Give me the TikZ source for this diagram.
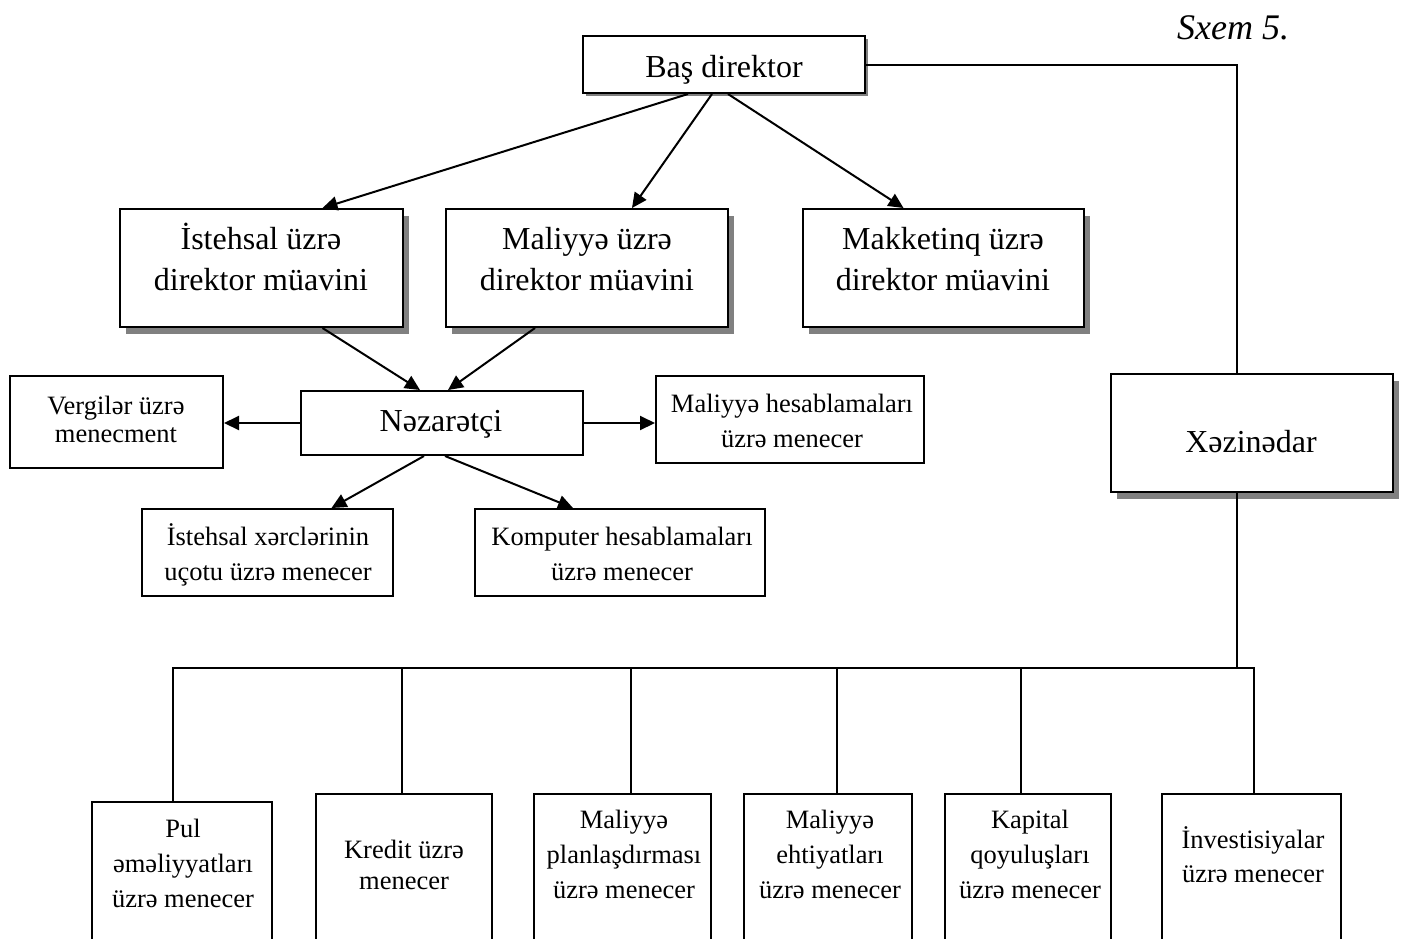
\documentclass[tikz,border=0pt]{standalone}
\usepackage{fontspec}
\setmainfont{Liberation Serif}
\usetikzlibrary{arrows.meta,shadows}

\tikzset{
  frame/.style={draw, line width=2pt, fill=white, inner sep=0pt},
  shade3/.style={drop shadow={shadow xshift=3pt,shadow yshift=-3pt,fill=black!50,opacity=1}},
  shade6/.style={drop shadow={shadow xshift=6pt,shadow yshift=-7pt,fill=black!50,opacity=1}},
  bigtxt/.style={anchor=base, align=center, inner sep=0pt, font=\fontsize{32}{41}\selectfont},
  smalltxt/.style={anchor=base, align=center, inner sep=0pt, font=\fontsize{26.5}{35}\selectfont},
  link/.style={line width=2pt},
  arrowlink/.style={line width=2pt, -{Triangle[length=15pt,width=14pt]}},
}

\begin{document}
\begin{tikzpicture}[x=1pt,y=-1pt]
\useasboundingbox (0,0) rectangle (1404,938);
\clip (0,0) rectangle (1404,938);

% caption
\node[anchor=base west, inner sep=0pt, font=\itshape\fontsize{36}{40}\selectfont] (cap) at (1177,39) {Sxem 5.};

% upper boxes
\node[frame,shade3,minimum width=282pt,minimum height=57pt] (bas) at (724,64.5) {};
\node[frame,shade6,minimum width=283pt,minimum height=118pt] (ist) at (261.5,268) {};
\node[frame,shade6,minimum width=282pt,minimum height=118pt] (mal) at (587,268) {};
\node[frame,shade6,minimum width=281pt,minimum height=118pt] (mak) at (943.5,268) {};
\node[frame,minimum width=282pt,minimum height=64pt] (nez) at (442,423) {};
\node[frame,minimum width=213pt,minimum height=92pt] (ver) at (116.5,422) {};
\node[frame,minimum width=268pt,minimum height=87pt] (mhs) at (790,419.5) {};
\node[frame,minimum width=251pt,minimum height=87pt] (ixm) at (267.5,552.5) {};
\node[frame,minimum width=290pt,minimum height=87pt] (kom) at (620,552.5) {};
\node[frame,shade6,minimum width=282pt,minimum height=118pt] (xez) at (1252,433) {};

% lower boxes (running off the bottom edge)
\node[frame,minimum width=180pt,minimum height=200pt] (pul) at (182,902) {};
\node[frame,minimum width=176pt,minimum height=210pt] (kre) at (404,899) {};
\node[frame,minimum width=177pt,minimum height=210pt] (mpl) at (622.5,899) {};
\node[frame,minimum width=168pt,minimum height=210pt] (meh) at (828,899) {};
\node[frame,minimum width=166pt,minimum height=210pt] (kap) at (1028,899) {};
\node[frame,minimum width=179pt,minimum height=210pt] (inv) at (1251.5,899) {};

% texts (anchored at the baseline of their last line)
\node[bigtxt] (bas-t) at (724,77) {Baş direktor};
\node[bigtxt] (ist-t) at (261,290) {İstehsal üzrə\\direktor müavini};
\node[bigtxt] (mal-t) at (587,290) {Maliyyə üzrə\\direktor müavini};
\node[bigtxt] (mak-t) at (943,290) {Makketinq üzrə\\direktor müavini};
\node[bigtxt] (nez-t) at (441,431) {Nəzarətçi};
\node[bigtxt] (xez-t) at (1251,452) {Xəzinədar};
\node[smalltxt, font=\fontsize{26.5}{28}\selectfont] (ver-t) at (116,442) {Vergilər üzrə\\menecment};
\node[smalltxt] (mhs-t) at (792,447) {Maliyyə hesablamaları\\üzrə menecer};
\node[smalltxt] (ixm-t) at (268,580) {İstehsal xərclərinin\\uçotu üzrə menecer};
\node[smalltxt] (kom-t) at (622,580) {Komputer hesablamaları\\üzrə menecer};
\node[smalltxt] (pul-t) at (183,907) {Pul\\əməliyyatları\\üzrə menecer};
\node[smalltxt, font=\fontsize{26.5}{31}\selectfont] (kre-t) at (404,889) {Kredit üzrə\\menecer};
\node[smalltxt] (mpl-t) at (624,898) {Maliyyə\\planlaşdırması\\üzrə menecer};
\node[smalltxt] (meh-t) at (830,898) {Maliyyə\\ehtiyatları\\üzrə menecer};
\node[smalltxt] (kap-t) at (1030,898) {Kapital\\qoyuluşları\\üzrə menecer};
\node[smalltxt, font=\fontsize{26.5}{34}\selectfont] (inv-t) at (1253,882) {İnvestisiyalar\\üzrə menecer};

% arrows from the director and deputies
\draw[arrowlink] ([xshift=-36pt]bas.south) -- ([xshift=61pt]ist.north);
\draw[arrowlink] ([xshift=-12pt]bas.south) -- ([xshift=45pt]mal.north);
\draw[arrowlink] ([xshift=4pt]bas.south) -- ([xshift=-40pt]mak.north);
\draw[arrowlink] ([xshift=61pt]ist.south) -- ([xshift=-22pt]nez.north);
\draw[arrowlink] ([xshift=-52pt]mal.south) -- ([xshift=6pt]nez.north);

% arrows from the controller
\draw[arrowlink] (nez.west) -- (nez.west -| ver.east);
\draw[arrowlink] (nez.east) -- (nez.east -| mhs.west);
\draw[arrowlink] ([xshift=-18pt]nez.south) -- ([xshift=64pt]ixm.north);
\draw[arrowlink] ([xshift=3pt]nez.south) -- ([xshift=-47pt]kom.north);

% treasurer branch
\coordinate (xj) at (1237,668);
\coordinate (b1) at (173,668);
\coordinate (b2) at (402,668);
\coordinate (b3) at (631,668);
\coordinate (b4) at (837,668);
\coordinate (b5) at (1021,668);
\coordinate (b6) at (1254,668);
\draw[link] (bas.east) -| (xez.north -| xj);
\draw[link] (xez.south -| xj) -- (xj);
\draw[link] (b1 |- pul.north) -- (b1) -- (b6) -- (b6 |- inv.north);
\draw[link] (b2) -- (b2 |- kre.north);
\draw[link] (b3) -- (b3 |- mpl.north);
\draw[link] (b4) -- (b4 |- meh.north);
\draw[link] (b5) -- (b5 |- kap.north);
\end{tikzpicture}
\end{document}
